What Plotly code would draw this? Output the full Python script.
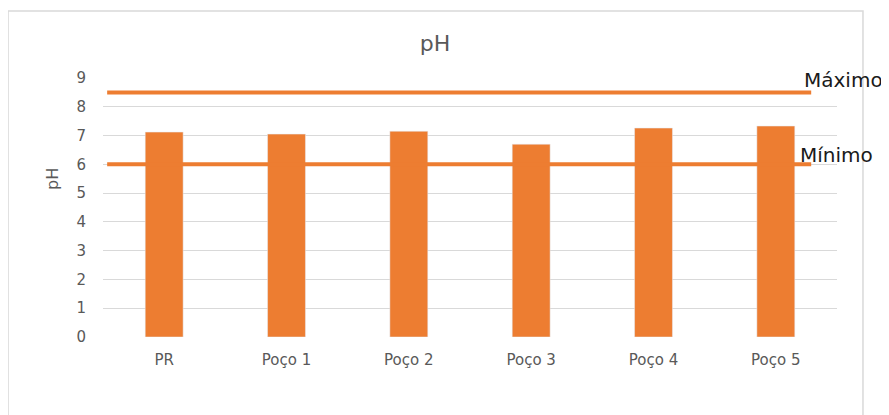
import plotly.graph_objects as go

categories = ["PR", "Poço 1", "Poço 2", "Poço 3", "Poço 4", "Poço 5"]
ph_values = [7.12, 7.05, 7.15, 6.70, 7.26, 7.33]
maximo = 8.5
minimo = 6.0
y_ticks = [0, 1, 2, 3, 4, 5, 6, 7, 8, 9]

ORANGE = "#ED7D31"
GRAY = "#595959"
FONT = "DejaVu Sans, sans-serif"

idx = list(range(len(categories)))
line_x = [-0.466, len(categories) - 1 + 0.289]

fig = go.Figure()
fig.add_trace(go.Bar(x=idx, y=ph_values, marker_color=ORANGE, width=0.31,
                     showlegend=False, hoverinfo="y"))
fig.add_trace(go.Scatter(x=line_x, y=[maximo, maximo], mode="lines",
                         line=dict(color=ORANGE, width=4), showlegend=False))
fig.add_trace(go.Scatter(x=line_x, y=[minimo, minimo], mode="lines",
                         line=dict(color=ORANGE, width=4), showlegend=False))

fig.add_annotation(x=5.215, y=maximo, xref="x", yref="y", text="Máximo",
                   showarrow=False, xanchor="left", yanchor="middle", yshift=12,
                   font=dict(family=FONT, size=20, color="#1a1a1a"))
fig.add_annotation(x=5.183, y=minimo, xref="x", yref="y", text="Mínimo",
                   showarrow=False, xanchor="left", yanchor="middle", yshift=9,
                   font=dict(family=FONT, size=20, color="#1a1a1a"))
fig.add_annotation(x=-0.0695, y=0.61, xref="paper", yref="paper", text="pH",
                   showarrow=False, textangle=-90, xanchor="center", yanchor="middle",
                   font=dict(family=FONT, size=16, color=GRAY))

fig.update_layout(
    width=881, height=407,
    margin=dict(l=95, r=52, t=70, b=78),
    paper_bgcolor="white", plot_bgcolor="white",
    font=dict(family=FONT, color=GRAY),
    title=dict(text="pH", x=0.4847, xanchor="center", y=0.914, yanchor="middle",
               font=dict(family=FONT, size=22, color=GRAY)),
    xaxis=dict(range=[-0.5, len(categories) - 0.5], tickmode="array", tickvals=idx,
               ticktext=categories, showgrid=False, zeroline=False, showline=False,
               tickfont=dict(size=15, color=GRAY), ticks="", ticklabelstandoff=12),
    yaxis=dict(range=[0, 9], tickvals=y_ticks, showgrid=True, gridcolor="#D9D9D9",
               gridwidth=1.3, zeroline=False, showline=False, ticks="",
               tickfont=dict(size=15, color=GRAY), ticklabelstandoff=16),
    shapes=[dict(type="rect", xref="paper", yref="paper", x0=-0.1294, x1=1.0354,
                 y0=-0.4, y1=1.2587, line=dict(color="#D9D9D9", width=1.5),
                 fillcolor="rgba(0,0,0,0)", layer="below")],
)

fig.write_html("out.html")
